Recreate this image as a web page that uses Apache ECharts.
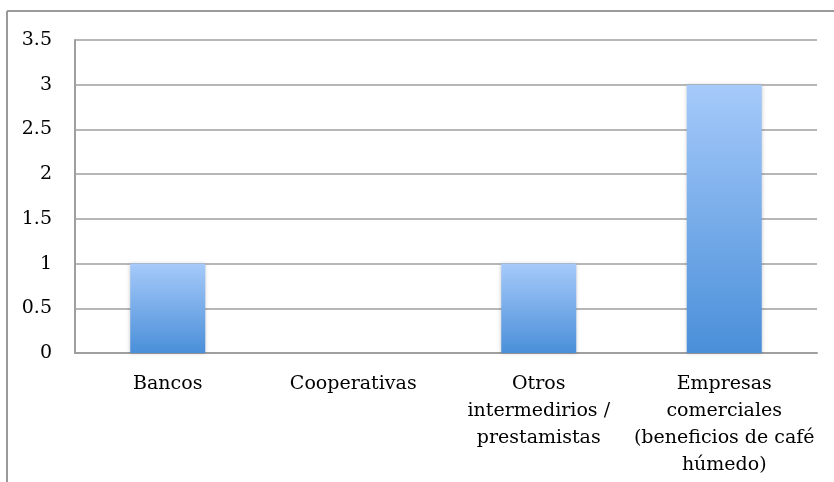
<!DOCTYPE html>
<html>
<head>
<meta charset="utf-8">
<script src="https://cdn.jsdelivr.net/npm/echarts@6/dist/echarts.min.js"></script>
<style>
  html, body { margin: 0; padding: 0; background: #fff; }
  #chart { width: 834px; height: 482px; }
</style>
</head>
<body>
<div id="chart"></div>
<script>
// Fuentes de financiamiento
const categories = [
  'Bancos',
  'Cooperativas',
  'Otros\nintermedirios /\nprestamistas',
  'Empresas\ncomerciales\n(beneficios de café\nhúmedo)'
];
const values = [1, 0, 1, 3];
const yTicks = { min: 0, max: 3.5, interval: 0.5 };

const FONT = '"DejaVu Serif", serif';
const chart = echarts.init(document.getElementById('chart'), null, { renderer: 'canvas' });

chart.setOption({
  animation: false,
  backgroundColor: '#ffffff',
  graphic: [
    { type: 'line', shape: { x1: 7, y1: 11, x2: 834, y2: 11 }, style: { stroke: '#9a9a9a', lineWidth: 2 } },
    { type: 'line', shape: { x1: 7, y1: 11, x2: 7, y2: 482 }, style: { stroke: '#9a9a9a', lineWidth: 2 } }
  ],
  grid: { left: 75, right: 17, top: 40, bottom: 129, containLabel: false },
  xAxis: {
    type: 'category',
    data: categories,
    axisTick: { show: false },
    axisLine: { show: true, lineStyle: { color: '#9f9f9f', width: 2 } },
    axisLabel: {
      interval: 0,
      margin: 18,
      fontFamily: FONT,
      fontSize: 19,
      lineHeight: 27,
      color: '#000',
      align: 'center'
    }
  },
  yAxis: {
    type: 'value',
    min: yTicks.min,
    max: yTicks.max,
    interval: yTicks.interval,
    axisLine: { show: true, lineStyle: { color: '#9f9f9f', width: 2 } },
    axisTick: { show: false },
    splitLine: { show: true, lineStyle: { color: '#9f9f9f', width: 1.5 } },
    axisLabel: {
      margin: 23,
      fontFamily: FONT,
      fontSize: 19,
      color: '#000',
      formatter: v => String(v)
    }
  },
  series: [{
    type: 'bar',
    data: values,
    barWidth: 75,
    itemStyle: {
      color: new echarts.graphic.LinearGradient(0, 0, 0, 1, [
        { offset: 0, color: '#a6cafa' },
        { offset: 1, color: '#4a8fd9' }
      ]),
      shadowColor: 'rgba(0,0,0,0.22)',
      shadowBlur: 4,
      shadowOffsetX: 0,
      shadowOffsetY: 0
    }
  }]
});
</script>
</body>
</html>
